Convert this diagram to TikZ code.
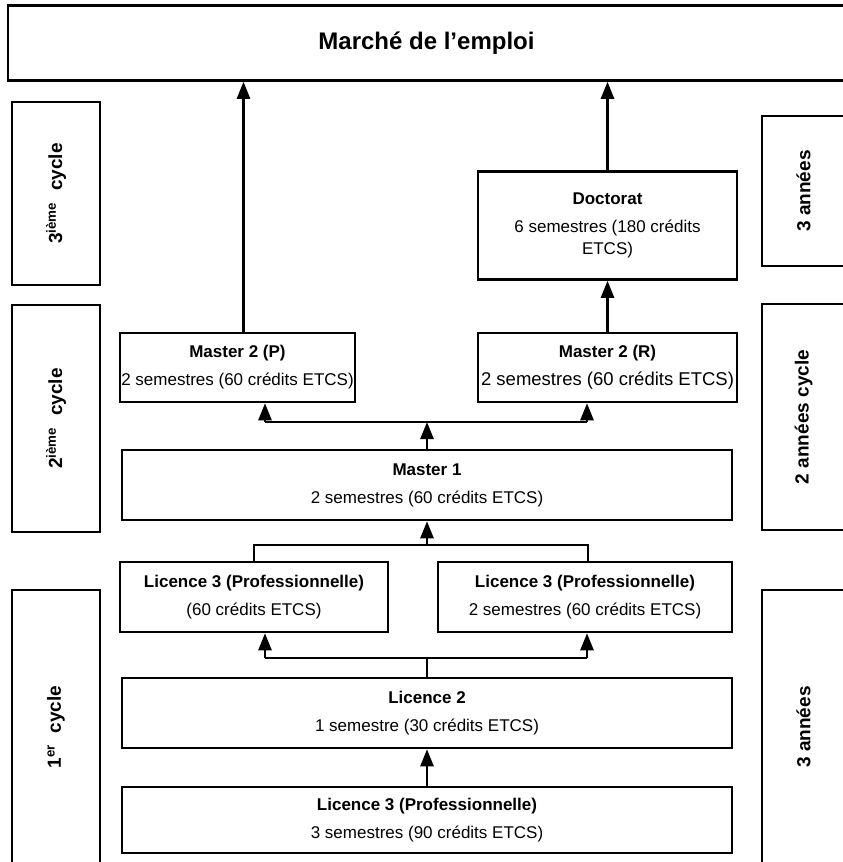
\documentclass[tikz,border=0pt]{standalone}
\usepackage{fontspec}
\setmainfont{Liberation Sans}
\usetikzlibrary{arrows.meta, calc}

\tikzset{
    box/.style={draw, line width=2.5pt, inner sep=1pt, align=center, font=\fontsize{17}{28}\selectfont},
    sidebox/.style={draw, line width=2.5pt, rotate=90, inner sep=0pt, font=\bfseries\fontsize{19}{22}\selectfont},
    conn/.style={line width=2.5pt},
    arr/.style={line width=2.5pt, -{Triangle[length=17pt,width=13pt]}}
}

\begin{document}
\begin{tikzpicture}[x=1pt, y=-1pt]
    \useasboundingbox (0,0) rectangle (843,862);
    \clip (0,0) rectangle (843,862);

    % Market box
    \node[box, minimum width=837, minimum height=75, font=\bfseries\fontsize{24}{28}\selectfont] (marche) at (426.5,43) {Marché de l’emploi};

    % Cycles (left) and years (right)
    \node[sidebox, minimum width=183, minimum height=88] (cycleIII) at (56,193.5) {3\textsuperscript{ième}\hspace{0.6em}cycle};
    \node[sidebox, minimum width=227, minimum height=88] (cycleII) at (56,418.5) {2\textsuperscript{ième}\hspace{0.6em}cycle};
    \node[sidebox, minimum width=274, minimum height=88] (cycleI) at (56,727) {1\textsuperscript{er}\hspace{0.6em}cycle};
    \node[sidebox, minimum width=150, minimum height=83] (anIII) at (803.5,191) {3 années};
    \node[sidebox, minimum width=226, minimum height=83] (anII) at (803.5,417) {2 années cycle};
    \node[sidebox, minimum width=274, minimum height=83] (anI) at (803.5,727) {3 années};

    % Degrees
    \node[box, minimum width=259, minimum height=108] (doctorat) at (607.5,225.5) {\textbf{Doctorat}\\6 semestres (180 crédits\\[-6pt]ETCS)};
    \node[box, minimum width=235, minimum height=69] (mdeuxP) at (237.5,367.5) {\textbf{Master 2 (P)}\\2 semestres (60 crédits ETCS)};
    \node[box, minimum width=259, minimum height=69] (mdeuxR) at (607.5,367.5) {\textbf{Master 2 (R)}\\{\fontsize{18.5}{28}\selectfont 2 semestres (60 crédits ETCS)}};
    \node[box, minimum width=610, minimum height=70] (mun) at (427,485) {\textbf{Master 1}\\2 semestres (60 crédits ETCS)};
    \node[box, minimum width=268, minimum height=70] (lproA) at (254,597) {\textbf{Licence 3 (Professionnelle)}\\(60 crédits ETCS)};
    \node[box, minimum width=294, minimum height=70] (lproB) at (585,597) {\textbf{Licence 3 (Professionnelle)}\\2 semestres (60 crédits ETCS)};
    \node[box, minimum width=610, minimum height=70] (ldeux) at (427,713) {\textbf{Licence 2}\\1 semestre (30 crédits ETCS)};
    \node[box, minimum width=610, minimum height=66] (lpro) at (427,820) {\textbf{Licence 3 (Professionnelle)}\\3 semestres (90 crédits ETCS)};

    % Branching points
    \coordinate (mL) at (265,422);
    \coordinate (mR) at (587,422);
    \coordinate (lL) at (254,545);
    \coordinate (lR) at (588,545);
    \coordinate (dL) at (265,658);
    \coordinate (dR) at (587,658);

    % Connectors
    \draw[arr] ([xshift=6pt]mdeuxP.north) -- ([xshift=6pt]mdeuxP.north |- marche.south);
    \draw[arr] (doctorat.north) -- (doctorat.north |- marche.south);
    \draw[arr] (mdeuxR.north) -- (doctorat.south);

    \draw[conn] (mL) -- (mR);
    \draw[arr] (mL) -- (mL |- mdeuxP.south);
    \draw[arr] (mR) -- (mR |- mdeuxR.south);
    \draw[arr] (mun.north) -- (mun.north |- mL);

    \draw[conn] (lL |- lproA.north) -- (lL) -- (lR) -- (lR |- lproB.north);
    \draw[arr] (mun.south |- lL) -- (mun.south);

    \draw[conn] (dL) -- (dR);
    \draw[arr] (dL) -- (dL |- lproA.south);
    \draw[arr] (dR) -- (dR |- lproB.south);
    \draw[conn] (ldeux.north) -- (ldeux.north |- dL);

    \draw[arr] (lpro.north) -- (ldeux.south);
\end{tikzpicture}
\end{document}
